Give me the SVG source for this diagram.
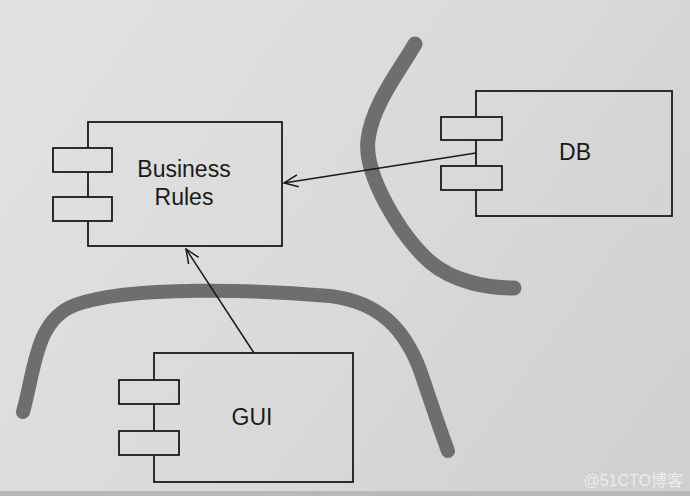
<svg xmlns="http://www.w3.org/2000/svg" width="690" height="496" viewBox="0 0 690 496">
<defs>
<linearGradient id="bg" gradientUnits="userSpaceOnUse" x1="0" y1="0" x2="690" y2="496">
<stop offset="0" stop-color="#e2e2e2"/>
<stop offset="0.5" stop-color="#dadada"/>
<stop offset="1" stop-color="#cfcfcf"/>
</linearGradient>
<marker id="arr" viewBox="0 0 16 14" refX="15" refY="7" markerWidth="16" markerHeight="14" markerUnits="userSpaceOnUse" orient="auto">
<path d="M1,1 L15,7 L1,13" fill="none" stroke="#1a1a1a" stroke-width="1.5"/>
</marker>
</defs>
<style>
.box{fill:none;stroke:#1a1a1a;stroke-width:1.8}
.port{fill:url(#bg);stroke:#1a1a1a;stroke-width:1.8}
.lbl{font-family:"Liberation Sans",Arial,sans-serif;font-size:23px;fill:#1a1a1a;text-anchor:middle}
.wall{fill:none;stroke:#6e6e6e;stroke-linecap:round;stroke-linejoin:round}
.conn{fill:none;stroke:#1a1a1a;stroke-width:1.5}
</style>
<rect x="0" y="0" width="690" height="496" fill="url(#bg)"/>
<rect x="0" y="491" width="690" height="5" fill="#b8b8b8"/>
<g id="boundaries">
<path class="wall" stroke-width="15" d="M415,44 C400,70 372,105 368,140 C364,175 400,235 430,262 C455,283 490,288 514,288"/>
<path class="wall" stroke-width="14" d="M23,412 C35,370 35,320 75,305 C130,285 260,290 330,296 C380,302 405,330 420,370 C432,405 440,430 448,451"/>
</g>
<g id="business-rules">
<rect class="box" x="88" y="122" width="194" height="124"/>
<rect class="port" x="53" y="148" width="59" height="24"/>
<rect class="port" x="53" y="197" width="59" height="24"/>
<text class="lbl" x="184" y="177">Business</text>
<text class="lbl" x="184" y="205">Rules</text>
</g>
<g id="db">
<rect class="box" x="476" y="91" width="196" height="125"/>
<rect class="port" x="441" y="117" width="61" height="23"/>
<rect class="port" x="441" y="166" width="61" height="24"/>
<text class="lbl" x="575" y="160">DB</text>
</g>
<g id="gui">
<rect class="box" x="154" y="353" width="199" height="129"/>
<rect class="port" x="119" y="380" width="60" height="24"/>
<rect class="port" x="119" y="431" width="60" height="24"/>
<text class="lbl" x="252" y="425">GUI</text>
</g>
<g id="connectors">
<path class="conn" d="M476,153 L284,183" marker-end="url(#arr)"/>
<path class="conn" d="M254,353 L186,249" marker-end="url(#arr)"/>
</g>
<text x="683" y="486" font-family="'Liberation Sans','Noto Sans CJK SC',sans-serif" font-size="16" fill="#ececec" text-anchor="end">@51CTO博客</text>
</svg>
